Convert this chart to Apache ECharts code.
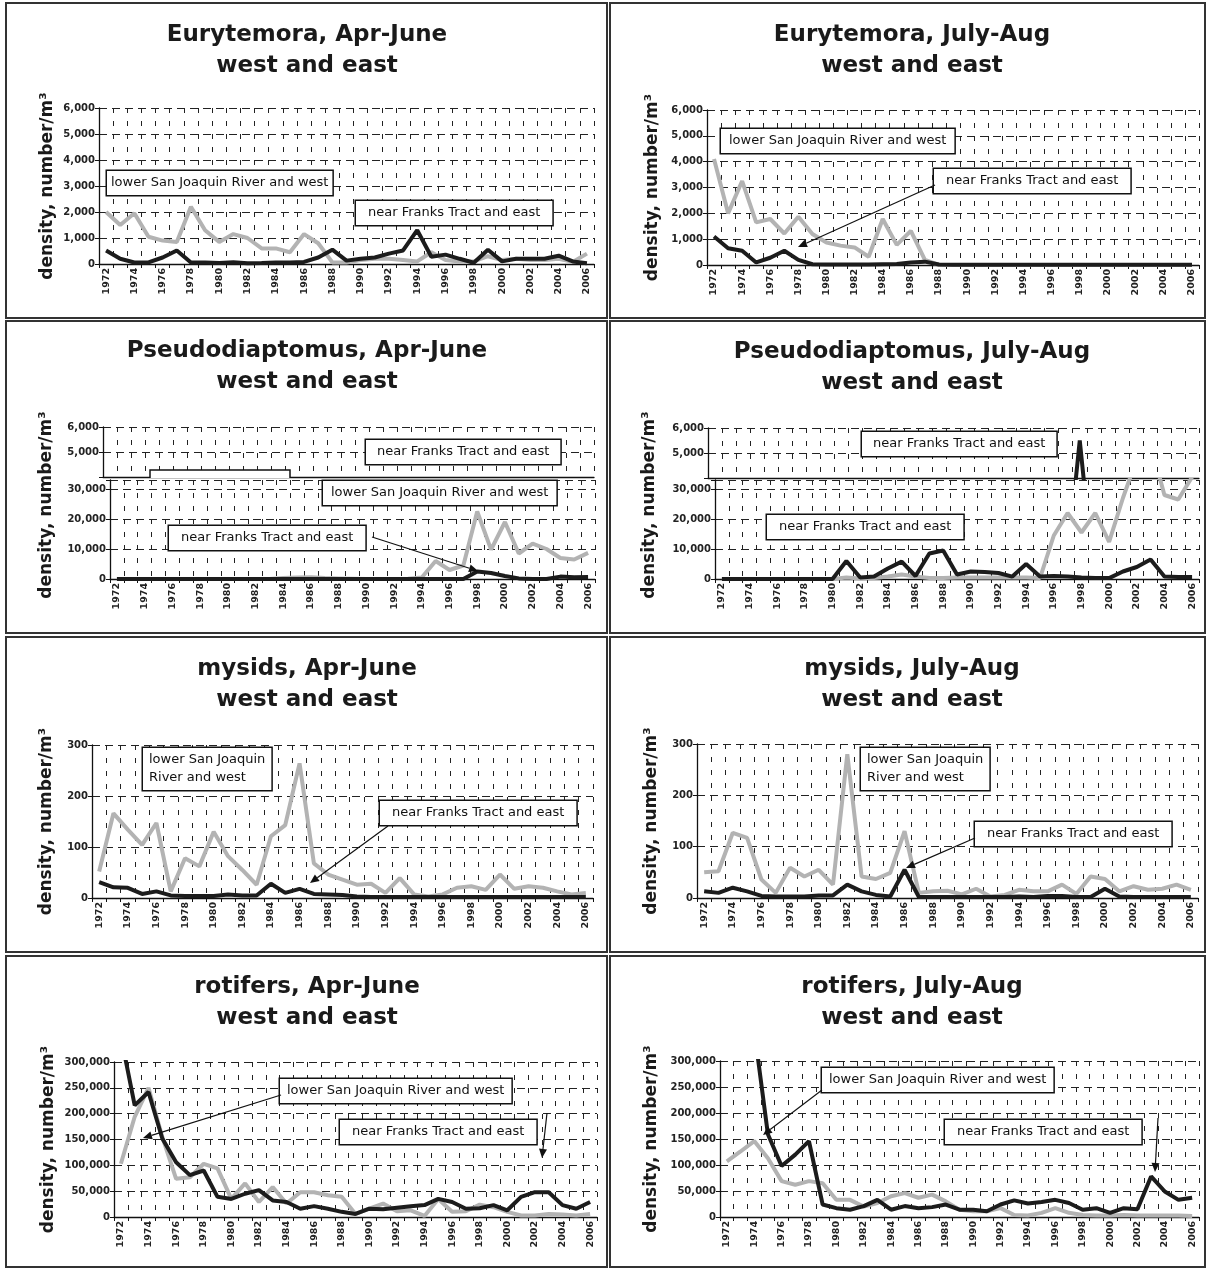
<!DOCTYPE html>
<html>
<head>
<meta charset="utf-8">
<title>Zooplankton densities, west and east</title>
<script src="https://cdn.jsdelivr.net/npm/echarts@6/dist/echarts.min.js"></script>
<style>
  html, body { margin: 0; padding: 0; background: #fff; }
  #chart { width: 1207px; height: 1268px; }
</style>
</head>
<body>
<div id="chart"></div>
<script>
const years = ['1972','1973','1974','1975','1976','1977','1978','1979','1980','1981',
               '1982','1983','1984','1985','1986','1987','1988','1989','1990','1991',
               '1992','1993','1994','1995','1996','1997','1998','1999','2000','2001',
               '2002','2003','2004','2005','2006'];

// "lower San Joaquin River and west" = grey, "near Franks Tract and east" = black
const euryAprWest = [2000,1500,1950,1050,900,850,2200,1300,850,1150, 1000,600,600,450,1150,800,60,60,150,200,
                     200,150,100,450,150,100,100,300,150,200, 150,150,200,80,400];
const euryAprEast = [520,200,60,60,250,520,60,60,40,70, 30,40,60,60,80,250,550,130,200,250,
                     400,520,1300,280,360,200,50,550,100,200, 200,200,320,100,30];
const euryJulWest = [4100,2000,3250,1650,1780,1220,1870,1200,870,750, 680,320,1780,780,1320,200,0,0,0,0,
                     0,0,0,0,0,0,0,0,0,0, 0,0,0,0,0];
const euryJulEast = [1100,650,550,100,280,550,200,30,20,20, 20,20,30,40,100,130,20,10,10,10,
                     10,10,10,10,10,10,10,10,10,10, 10,10,10,10,10];

const pseudoAprWest = [0,0,0,0,0,0,0,0,0,0, 0,0,300,500,600,300,200,100,0,0,
                       0,100,500,6000,3000,4500,22500,9800,19000,8500, 11800,10000,7000,6500,8700];
const pseudoAprEast = [0,0,0,0,0,0,0,0,0,0, 0,0,0,0,0,0,0,0,0,0,
                       0,0,0,0,0,0,2500,2000,1000,200, 0,0,800,600,700];
const pseudoJulWest = [0,0,0,0,0,0,0,0,0,500, 200,300,800,1500,800,300,300,500,500,500,
                       500,500,500,300,14500,22000,15500,22000,12400,27000, 40000,45000,28000,26500,34000];
const pseudoJulEast = [0,0,0,0,0,0,0,0,0,6000, 500,800,3500,5800,1000,8500,9500,1500,2500,2300,
                       2000,800,5000,800,1000,800,500,300,300,2500, 4000,6500,800,700,700];
// remnant of the older 0-6,000 chart showing above the July-Aug plot
const pseudoJulOldEast = [0,0,0,0,0,0,0,0,0,0, 0,0,0,0,0,0,0,0,0,0,
                          0,0,0,0,0,0,5500,0,0,0, 0,0,0,0,0];

const mysAprWest = [52,166,134,104,147,13,78,62,130,82, 55,26,121,143,264,68,46,36,26,28,
                    10,39,7,3,7,20,23,16,46,18, 23,20,13,7,10];
const mysAprEast = [31,21,20,8,13,5,4,4,4,7, 5,5,28,10,18,8,7,6,3,2,
                    2,2,2,2,2,2,2,2,2,2, 2,2,2,2,2];
const mysJulWest = [50,52,127,117,36,10,59,42,55,26, 280,42,37,49,130,10,13,14,7,18,
                    3,6,16,13,13,26,8,42,37,13, 23,16,18,26,16];
const mysJulEast = [13,10,20,13,4,3,3,3,5,5, 26,13,6,3,55,2,2,2,2,2,
                    2,2,3,2,4,4,2,2,18,3, 2,2,2,2,2];

const rotAprWest = [103000,194000,250000,155000,74000,77000,103000,94000,35000,65000,
                    29000,58000,26000,48000,48000,42000,39000,6000,16000,26000,
                    11000,13000,2000,35000,10000,11000,24000,19000,10000,3000,
                    3000,6000,5000,3000,6000];
const rotAprEast = [350000,216000,242000,152000,106000,81000,90000,39000,35000,45000,
                    52000,32000,29000,16000,21000,16000,10000,6000,16000,15000,
                    18000,21000,23000,35000,29000,16000,17000,23000,13000,39000,
                    48000,48000,23000,16000,29000];
const rotJulWest = [107000,126000,146000,113000,69000,62000,69000,65000,33000,33000,
                    20000,27000,40000,46000,37000,43000,30000,14000,11000,11000,
                    17000,4000,3000,8000,17000,8000,4000,3000,3000,4000,
                    3000,3000,3000,3000,2000];
const rotJulEast = [450000,420000,360000,159000,98000,120000,146000,24000,17000,14000,
                    21000,33000,14000,21000,17000,19000,24000,14000,14000,11000,
                    24000,32000,26000,29000,33000,27000,14000,17000,8000,17000,
                    15000,78000,49000,33000,37000];

const FONT = 'DejaVu Sans';
const GREY = '#b3b3b3';
const BLACK = '#1c1c1c';
const yName = 'density, number/m³';
const fmt = v => v.toLocaleString('en-US');

// each plotted panel
const panels = [
  {title: 'Eurytemora, Apr-June', cx: 307, ty: 20, grid: {left: 99, top: 108, width: 495, height: 156},
   max: 6000, step: 1000, west: euryAprWest, east: euryAprEast, gap: 43},
  {title: 'Eurytemora, July-Aug', cx: 912, ty: 20, grid: {left: 707, top: 110, width: 492, height: 155},
   max: 6000, step: 1000, west: euryJulWest, east: euryJulEast, gap: 46},
  {title: 'Pseudodiaptomus, Apr-June', cx: 307, ty: 336, grid: {left: 110, top: 480, width: 485, height: 99},
   max: 33000, step: 10000, west: pseudoAprWest, east: pseudoAprEast, gap: 0, noName: true},
  {title: 'Pseudodiaptomus, July-Aug', cx: 912, ty: 337, grid: {left: 715, top: 480, width: 484, height: 99},
   max: 33000, step: 10000, west: pseudoJulWest, east: pseudoJulEast, gap: 0, noName: true},
  {title: 'mysids, Apr-June', cx: 307, ty: 654, grid: {left: 92, top: 745, width: 501, height: 153},
   max: 300, step: 100, west: mysAprWest, east: mysAprEast, gap: 37},
  {title: 'mysids, July-Aug', cx: 912, ty: 654, grid: {left: 697, top: 744, width: 501, height: 154},
   max: 300, step: 100, west: mysJulWest, east: mysJulEast, gap: 37},
  {title: 'rotifers, Apr-June', cx: 307, ty: 972, grid: {left: 114, top: 1062, width: 483, height: 155},
   max: 300000, step: 50000, west: rotAprWest, east: rotAprEast, gap: 57},
  {title: 'rotifers, July-Aug', cx: 912, ty: 972, grid: {left: 720, top: 1061, width: 479, height: 156},
   max: 300000, step: 50000, west: rotJulWest, east: rotJulEast, gap: 60}
];
// the older 0-6,000 charts that stick out above the Pseudodiaptomus plots
const oldGrids = [
  {left: 103, top: 427, width: 491, height: 50},
  {left: 708, top: 428, width: 491, height: 50}
];

function xAxisFor(i, showLabels) {
  return {
    type: 'category', gridIndex: i, data: years, boundaryGap: true,
    axisLine: {show: true, lineStyle: {color: '#111', width: 1.3}},
    axisTick: {show: showLabels, interval: 0, length: 4, lineStyle: {color: '#111'}},
    axisLabel: {show: showLabels, interval: 1, rotate: 90, margin: 4,
                fontFamily: FONT, fontSize: 9.5, fontWeight: 'bold', color: '#222'},
    splitLine: {show: true, interval: 0, lineStyle: {color: '#222', width: 1, type: [5, 8]}}
  };
}

function yAxisFor(i, min, max, step, gap, name, formatter) {
  return {
    type: 'value', gridIndex: i, min: min, max: max, interval: step,
    name: name, nameLocation: 'middle', nameGap: gap,
    nameTextStyle: {fontFamily: FONT, fontSize: 17, fontWeight: 'bold', color: '#1a1a1a'},
    axisLine: {show: true, lineStyle: {color: '#111', width: 1.3}},
    axisTick: {show: true, length: 4, lineStyle: {color: '#111'}},
    axisLabel: {margin: 4, fontFamily: FONT, fontSize: 10, fontWeight: 'bold', color: '#222', formatter: formatter},
    splitLine: {show: true, lineStyle: {color: '#222', width: 1, type: [8, 5]}}
  };
}

const grid = [], xAxis = [], yAxis = [], series = [], title = [];
panels.forEach((p, i) => {
  grid.push(p.grid);
  xAxis.push(xAxisFor(i, true));
  yAxis.push(yAxisFor(i, 0, p.max, p.step, p.gap, p.noName ? '' : yName,
                      v => (v % p.step === 0 ? fmt(v) : '')));
  series.push({type: 'line', xAxisIndex: i, yAxisIndex: i, data: p.west, symbol: 'none', clip: true,
               z: 2, lineStyle: {color: GREY, width: 4}, itemStyle: {color: GREY}});
  series.push({type: 'line', xAxisIndex: i, yAxisIndex: i, data: p.east, symbol: 'none', clip: true,
               z: 3, lineStyle: {color: BLACK, width: 4}, itemStyle: {color: BLACK}});
  title.push({text: p.title + '\nwest and east', left: p.cx, top: p.ty, textAlign: 'center', padding: 0,
              textStyle: {fontFamily: FONT, fontWeight: 'bold', fontSize: 23, lineHeight: 31, color: '#1a1a1a'}});
});
oldGrids.forEach((g, k) => {
  const i = panels.length + k;
  grid.push(g);
  xAxis.push(xAxisFor(i, false));
  yAxis.push(yAxisFor(i, 4000, 6000, 1000, 0, '', v => (v >= 5000 ? fmt(v) : '')));
});
series.push({type: 'line', xAxisIndex: 9, yAxisIndex: 9, data: pseudoJulOldEast, symbol: 'none', clip: true,
             z: 3, lineStyle: {color: BLACK, width: 4}});

// annotation boxes and arrows
function box(x, y, text, padX) {
  const px = padX || 6;
  return {type: 'text', x: x, y: y, z: 100,
          style: {text: text, fontFamily: FONT, fontSize: 13, lineHeight: 18, fill: '#111',
                  backgroundColor: '#fff', borderColor: '#111', borderWidth: 1.5, padding: [3, px]}};
}
function arrow(x1, y1, x2, y2) {
  const a = Math.atan2(y2 - y1, x2 - x1), L = 9, W = 4;
  const bx = x2 - L * Math.cos(a), by = y2 - L * Math.sin(a);
  return [
    {type: 'line', z: 100, shape: {x1: x1, y1: y1, x2: bx, y2: by}, style: {stroke: '#111', lineWidth: 1.2}},
    {type: 'polygon', z: 100, shape: {points: [[x2, y2],
        [bx - W * Math.sin(a), by + W * Math.cos(a)], [bx + W * Math.sin(a), by - W * Math.cos(a)]]},
     style: {fill: '#111'}}
  ];
}
function frame(x, y, w, h) {
  return {type: 'rect', z: 110, shape: {x: x, y: y, width: w, height: h},
          style: {fill: 'none', stroke: '#333', lineWidth: 2}};
}
function vname(x, y) {
  return {type: 'text', x: x, y: y, rotation: Math.PI / 2, z: 100,
          style: {text: yName, fontFamily: FONT, fontSize: 17, fontWeight: 'bold', fill: '#1a1a1a',
                  align: 'center', verticalAlign: 'middle'}};
}

const SJ = 'lower San Joaquin River and west';
const FT = 'near Franks Tract and east';
const graphic = [
  frame(6, 3, 601, 315), frame(610, 3, 595, 315),
  frame(6, 321, 601, 312), frame(610, 321, 595, 312),
  frame(6, 637, 601, 315), frame(610, 637, 595, 315),
  frame(6, 956, 601, 311), frame(610, 956, 595, 311),
  box(107, 171, SJ, 4), box(356, 201, FT, 12),
  box(721, 129, SJ, 8), box(934, 169, FT, 12), ...arrow(935, 185, 798, 247),
  box(366, 440, FT, 11),
  {type: 'polyline', z: 100, shape: {points: [[150, 478], [150, 470], [290, 470], [290, 478]]},
   style: {stroke: '#111', lineWidth: 1.5, fill: '#fff'}},
  box(323, 481, SJ, 8), box(169, 526, FT, 12), ...arrow(372, 537, 478, 571),
  box(862, 432, FT, 11), box(767, 515, FT, 12),
  vname(47, 505), vname(650, 505),
  box(143, 748, 'lower San Joaquin\nRiver and west', 6), box(380, 801, FT, 12), ...arrow(388, 826, 310, 883),
  box(861, 748, 'lower San Joaquin\nRiver and west', 6), box(975, 822, FT, 12), ...arrow(975, 838, 906, 868),
  box(280, 1079, SJ, 7), box(340, 1120, FT, 12), ...arrow(281, 1095, 143, 1138), ...arrow(547, 1113, 542, 1158),
  box(822, 1068, SJ, 7), box(945, 1120, FT, 12), ...arrow(822, 1090, 763, 1135), ...arrow(1158, 1118, 1155, 1172)
];

const myChart = echarts.init(document.getElementById('chart'));
myChart.setOption({
  backgroundColor: '#fff',
  animation: false,
  title: title,
  grid: grid,
  xAxis: xAxis,
  yAxis: yAxis,
  series: series,
  graphic: graphic
});
</script>
</body>
</html>
